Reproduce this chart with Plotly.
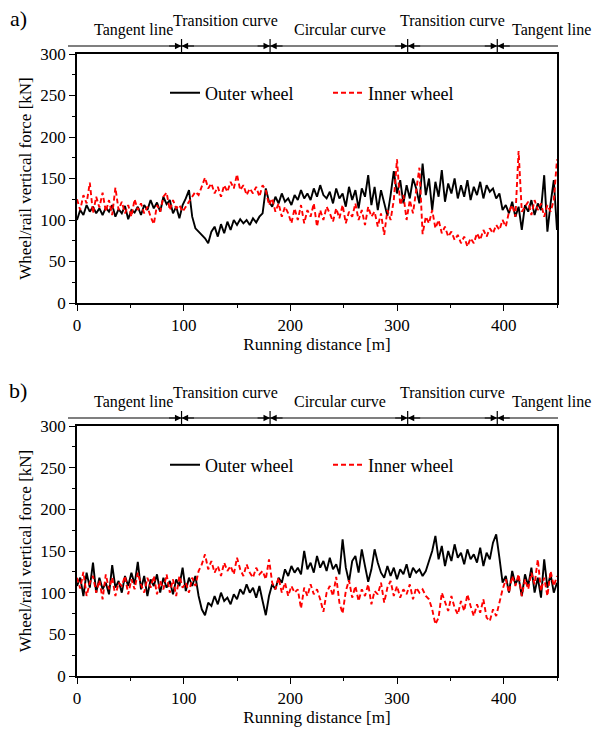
import plotly.graph_objects as go

# ---------------- data ----------------
distance = list(range(0, 451, 3))  # running distance [m]

a_outer = [
    100, 112, 106, 118, 110, 116, 108, 114, 106, 115,
    110, 118, 104, 113, 108, 117, 101, 112, 109, 116,
    106, 118, 112, 124, 114, 121, 110, 128, 119, 124,
    108, 116, 102, 118, 126, 136, 104, 90, 86, 82,
    78, 72, 86, 92, 80, 95, 84, 98, 88, 100,
    94, 101, 96, 100, 94, 102, 97, 104, 108, 138,
    122, 116, 128, 120, 132, 122, 126, 118, 130, 124,
    136, 126, 132, 124, 138, 128, 142, 130, 126, 134,
    120, 138, 126, 132, 116, 140, 124, 136, 114, 138,
    128, 154, 118, 140, 112, 136, 122, 105, 130, 159,
    132, 148, 120, 142, 126, 150, 138, 120, 168, 130,
    150, 112, 146, 128, 160, 122, 144, 132, 150, 126,
    142, 128, 148, 124, 140, 130, 146, 126, 142, 134,
    138, 126, 132, 112, 118, 108, 122, 104, 116, 88,
    118, 110, 124, 106, 120, 112, 154, 86, 120, 148,
    88,
]
a_inner = [
    125, 112, 130, 120, 145, 108, 128, 115, 133, 110,
    124, 106, 139, 112, 122, 108, 118, 104, 125, 112,
    120, 108, 116, 104, 95, 118, 110, 128, 133, 112,
    124, 114, 118, 110, 116, 122, 128, 134, 130, 140,
    151, 138, 144, 132, 140, 128, 142, 134, 146, 138,
    155, 136, 142, 130, 138, 132, 140, 128, 142, 136,
    118, 126, 110, 120, 104, 116, 108, 96, 114, 100,
    118, 96, 112, 104, 120, 92, 112, 100, 116, 108,
    98, 114, 102, 118, 96, 110, 104, 120, 100, 112,
    94, 116, 104, 110, 92, 108, 82, 112, 100, 124,
    173, 118, 130, 100, 124, 108, 135, 163, 83, 104,
    96, 112, 90, 100, 84, 92, 80, 86, 76, 82,
    72, 80, 68, 78, 72, 84, 76, 88, 80, 90,
    84, 94, 88, 100, 92, 110, 118, 104, 183, 110,
    116, 122, 106, 124, 112, 120, 104, 118, 110, 124,
    173,
]
b_outer = [
    108, 118, 96, 124, 106, 136, 100, 118, 104, 112,
    98, 133, 106, 114, 100, 120, 108, 124, 110, 137,
    104, 120, 96, 116, 108, 122, 100, 118, 106, 114,
    98, 116, 108, 130, 102, 118, 108, 120, 96, 80,
    73, 88, 84, 96, 86, 100, 90, 94, 86, 98,
    92, 104, 98, 110, 100, 106, 94, 108, 90, 73,
    96, 110, 104, 118, 112, 128, 120, 132, 124, 130,
    122, 150, 128, 136, 124, 144, 130, 138, 126, 142,
    128, 134, 122, 164, 130, 113, 138, 144, 124, 152,
    132, 113, 128, 152, 136, 124, 118, 132, 120, 130,
    116, 128, 122, 134, 118, 130, 124, 128, 120, 126,
    138, 150, 168, 140, 156, 132, 150, 138, 158, 142,
    148, 134, 152, 140, 146, 136, 154, 132, 148, 140,
    160, 170, 142, 112, 120, 100, 126, 110, 118, 96,
    122, 108, 130, 100, 118, 94, 140, 106, 122, 100,
    112,
]
b_inner = [
    118, 105, 125, 96, 112, 120, 100, 115, 92, 122,
    104, 118, 96, 112, 108, 120, 98, 116, 104, 124,
    110, 100, 118, 106, 120, 98, 114, 104, 122, 100,
    116, 96, 120, 106, 112, 100, 118, 108, 126, 134,
    146, 128, 138, 124, 132, 120, 136, 126, 132, 122,
    142, 128, 120, 134, 124, 118, 130, 122, 126, 116,
    140, 112, 104, 118, 100, 112, 96, 108, 100, 104,
    81, 106, 96, 110, 98, 104, 92, 77, 100, 108,
    96, 119, 88, 75, 102, 115, 94, 108, 90, 104,
    96, 110, 86, 102, 98, 112, 88, 106, 114, 96,
    108, 94, 104, 98, 110, 92, 106, 100, 104, 96,
    92, 80, 62, 70, 100, 88, 78, 96, 82, 74,
    90, 78, 98, 84, 72, 86, 76, 92, 70, 66,
    80, 72, 90, 104, 116, 100, 120, 108, 122, 96,
    116, 104, 124, 110, 140, 102, 118, 96, 126, 108,
    120,
]

segment_bounds = [98, 181, 310, 394]          # section boundaries [m]
segment_names = ["Tangent line", "Transition curve", "Circular curve",
                 "Transition curve", "Tangent line"]
segment_label_x = [53, 139, 247, 352, 445]
panel_labels = ["a)", "b)"]
x_ticks = [0, 100, 200, 300, 400]
y_ticks = [0, 50, 100, 150, 200, 250, 300]

# ---------------- layout helpers ----------------
W, H = 598, 730
FONT = "Liberation Serif"


def py(p):  # pixel y -> paper y
    return 1 - p / H


def px(p):
    return p / W


panels = [
    dict(top=54, bottom=303, xa="x", ya="y", legend="legend", outer=a_outer, inner=a_inner),
    dict(top=426, bottom=676, xa="x2", ya="y2", legend="legend2", outer=b_outer, inner=b_inner),
]

fig = go.Figure()
shapes = []
annotations = []

for i, p in enumerate(panels):
    fig.add_trace(go.Scatter(
        x=distance, y=p["outer"], mode="lines", name="Outer wheel",
        line=dict(color="black", width=1.9), xaxis=p["xa"], yaxis=p["ya"],
        legend=p["legend"]))
    fig.add_trace(go.Scatter(
        x=distance, y=p["inner"], mode="lines", name="Inner wheel",
        line=dict(color="#ff0000", width=1.9, dash="5px,3px"),
        xaxis=p["xa"], yaxis=p["ya"], legend=p["legend"]))

    line_y = py(p["top"] - 8)
    # horizontal section line
    shapes.append(dict(type="line", xref="paper", yref="paper",
                       x0=px(68), x1=px(558), y0=line_y, y1=line_y,
                       line=dict(color="black", width=1.2)))
    for b in segment_bounds:
        shapes.append(dict(type="line", xref=p["xa"], yref="paper",
                           x0=b, x1=b, y0=py(p["top"] - 2), y1=py(p["top"] - 15),
                           line=dict(color="black", width=1.2)))
        for side in (-1, 1):
            annotations.append(dict(
                x=b, y=line_y, xref=p["xa"], yref="paper", text="",
                showarrow=True, ax=side * 14, ay=0, arrowhead=2, arrowsize=1.1,
                arrowwidth=1.2, arrowcolor="black", standoff=0))
    for k, name in enumerate(segment_names):
        annotations.append(dict(
            x=segment_label_x[k], xref=p["xa"], yref="paper",
            y=py(p["top"] - (34 if "Transition" in name else 24)),
            text=name, showarrow=False, xanchor="center", yanchor="middle",
            font=dict(family=FONT, size=16, color="black")))
    annotations.append(dict(
        x=px(18), y=py(p["top"] - 36), xref="paper", yref="paper",
        text=panel_labels[i], showarrow=False, xanchor="center", yanchor="middle",
        font=dict(family=FONT, size=22, color="black")))

axis_common = dict(
    showline=True, linecolor="black", linewidth=1.5, mirror=True,
    ticks="outside", ticklen=6, tickwidth=1.3, tickcolor="black",
    showgrid=False, zeroline=False,
    tickfont=dict(family=FONT, size=17, color="black"),
)

layout = dict(
    width=W, height=H, margin=dict(l=0, r=0, t=0, b=0, pad=0, autoexpand=False),
    paper_bgcolor="white", plot_bgcolor="white",
    font=dict(family=FONT, size=16, color="black"),
    shapes=shapes, annotations=annotations,
)

for i, p in enumerate(panels):
    sfx = "" if i == 0 else "2"
    layout["xaxis" + sfx] = dict(
        axis_common, domain=[px(77), px(557)], range=[0, 450],
        tickmode="array", tickvals=x_ticks, anchor="y" + sfx,
        minor=dict(dtick=50, ticklen=3, ticks="outside", tickcolor="black", tickwidth=1.2),
        title=dict(text="Running distance [m]", standoff=4,
                   font=dict(family=FONT, size=17, color="black")))
    layout["yaxis" + sfx] = dict(
        axis_common, domain=[py(p["bottom"]), py(p["top"])], range=[0, 300],
        tickmode="array", tickvals=y_ticks, anchor="x" + sfx,
        minor=dict(dtick=25, ticklen=3, ticks="outside", tickcolor="black", tickwidth=1.2),
        title=dict(text="Wheel/rail vertical force [kN]", standoff=4,
                   font=dict(family=FONT, size=17, color="black")))
    layout["legend" + sfx] = dict(
        orientation="h", x=px(165), y=py(p["top"] + 39), xanchor="left", yanchor="middle",
        bgcolor="rgba(0,0,0,0)", entrywidth=118, entrywidthmode="pixels",
        font=dict(family=FONT, size=18, color="black"), itemwidth=30)

fig.update_layout(**layout)
fig.write_html("out.html")
